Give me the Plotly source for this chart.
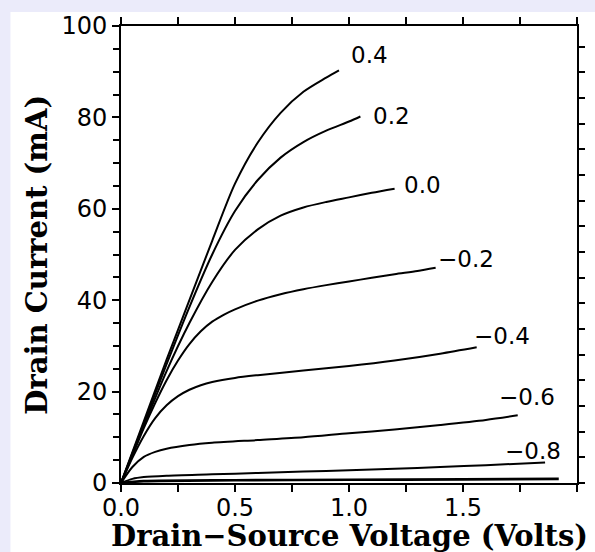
import plotly.graph_objects as go

# Gate voltage labels
gate_labels = ["0.4", "0.2", "0.0", "\u22120.2", "\u22120.4", "\u22120.6", "\u22120.8", ""]

# Drain-source voltage (V) and drain current (mA) for each curve
vds_04 = [0, 0.1, 0.2, 0.3, 0.4, 0.5, 0.6, 0.7, 0.8, 0.9, 0.956]
id_04 = [0, 13.5, 27, 40, 53, 65.5, 74.5, 81, 85.6, 88.7, 90.3]

vds_02 = [0, 0.1, 0.2, 0.3, 0.4, 0.5, 0.6, 0.7, 0.8, 0.9, 1.0, 1.05]
id_02 = [0, 13, 26, 38.5, 50, 59.5, 66.3, 71.2, 74.6, 77.1, 79.1, 80.2]

vds_00 = [0, 0.1, 0.2, 0.3, 0.4, 0.5, 0.6, 0.7, 0.8, 0.9, 1.0, 1.1, 1.2]
id_00 = [0, 12.5, 24.5, 35, 44, 51, 55.5, 58.5, 60.3, 61.5, 62.5, 63.5, 64.4]

vds_m02 = [0, 0.05, 0.1, 0.15, 0.2, 0.25, 0.3, 0.35, 0.4, 0.45, 0.5, 0.6, 0.7, 0.8, 0.9, 1.0, 1.1, 1.2, 1.3, 1.38]
id_m02 = [0, 6, 12, 17.5, 22.5, 26.8, 30.4, 33.2, 35.3, 36.8, 38.0, 39.9, 41.3, 42.4, 43.3, 44.1, 44.9, 45.7, 46.4, 47.1]

vds_m04 = [0, 0.05, 0.1, 0.15, 0.2, 0.25, 0.3, 0.35, 0.4, 0.5, 0.6, 0.8, 1.0, 1.2, 1.4, 1.56]
id_m04 = [0, 5.5, 10.3, 14.2, 17.0, 19.0, 20.4, 21.4, 22.1, 23.0, 23.6, 24.6, 25.6, 26.8, 28.3, 29.7]

vds_m06 = [0, 0.05, 0.1, 0.15, 0.2, 0.3, 0.4, 0.6, 0.8, 1.0, 1.2, 1.4, 1.6, 1.74]
id_m06 = [0, 3.5, 5.7, 6.8, 7.5, 8.3, 8.8, 9.4, 10, 10.9, 11.7, 12.7, 13.8, 14.8]

vds_m08 = [0, 0.05, 0.1, 0.2, 0.4, 0.6, 0.8, 1.0, 1.2, 1.4, 1.6, 1.86]
id_m08 = [0, 0.9, 1.3, 1.6, 1.9, 2.2, 2.5, 2.8, 3.1, 3.5, 3.9, 4.5]

vds_m10 = [0, 0.1, 0.5, 1.0, 1.5, 1.92]
id_m10 = [0, 0.4, 0.6, 0.7, 0.8, 0.9]

x_ticks = [0.0, 0.5, 1.0, 1.5, 2.0]
x_ticklabels = ["0.0", "0.5", "1.0", "1.5", "2.0"]
y_ticks = [0, 20, 40, 60, 80, 100]
y_ticklabels = ["0", "20", "40", "60", "80", "100"]

curves = [
    (vds_04, id_04), (vds_02, id_02), (vds_00, id_00), (vds_m02, id_m02),
    (vds_m04, id_m04), (vds_m06, id_m06), (vds_m08, id_m08), (vds_m10, id_m10),
]
# label offsets (pixels) from each curve's end
label_shift = [(10, 15), (11, 0), (7, 4), (0, 9), (-5, 11), (-21, 18), (-42, 11), (0, 0)]

fig = go.Figure()
for i, (xs, ys) in enumerate(curves):
    fig.add_trace(go.Scatter(
        x=xs, y=ys, mode="lines",
        line=dict(color="black", width=2.6 if i == 7 else 2, shape="spline", smoothing=0.8),
        showlegend=False, hoverinfo="skip"))
# invisible trace to activate the top and right tick axes
fig.add_trace(go.Scatter(x=[0], y=[0], xaxis="x2", yaxis="y2", mode="markers",
                         marker=dict(opacity=0), showlegend=False, hoverinfo="skip"))

annotations = []
for (xs, ys), lab, (dx, dy) in zip(curves, gate_labels, label_shift):
    if not lab:
        continue
    annotations.append(dict(
        x=xs[-1], y=ys[-1], xref="x", yref="y", text=lab, showarrow=False,
        xanchor="left", yanchor="middle", xshift=dx, yshift=dy,
        font=dict(family="DejaVu Sans", size=23, color="black")))

title_font = dict(family="DejaVu Serif", size=29, color="black", weight="bold")
annotations.append(dict(
    x=0.5, y=-0.115, xref="paper", yref="paper", text="Drain\u2212Source Voltage (Volts)",
    showarrow=False, xanchor="center", yanchor="middle", font=title_font))
annotations.append(dict(
    x=-0.186, y=0.5, xref="paper", yref="paper", text="Drain Current (mA)",
    showarrow=False, xanchor="center", yanchor="middle", textangle=-90, font=title_font))

tick_font = dict(family="DejaVu Sans", size=24, color="black")
tick_style = dict(ticks="outside", ticklen=7, tickwidth=2, tickcolor="black")

bg = "#ebebfa"
fig.update_layout(
    width=595, height=552,
    margin=dict(l=121, r=16, t=22, b=69, pad=0),
    paper_bgcolor="white", plot_bgcolor="white",
    showlegend=False,
    annotations=annotations,
    shapes=[
        dict(type="rect", xref="paper", yref="paper",
             x0=-0.27, x1=-0.2424, y0=-0.2, y1=1.06,
             fillcolor=bg, line=dict(width=0), layer="above"),
        dict(type="rect", xref="paper", yref="paper",
             x0=-0.27, x1=1.05, y0=1.0304, y1=1.06,
             fillcolor=bg, line=dict(width=0), layer="above"),
    ],
    xaxis=dict(range=[0, 2.0], tickvals=x_ticks, ticktext=x_ticklabels,
               showgrid=False, zeroline=False, showline=True, linecolor="black", linewidth=2,
               mirror=True, tickfont=tick_font, ticklabelstandoff=-5, **tick_style,
               minor=dict(dtick=0.25, showgrid=False, **tick_style)),
    xaxis2=dict(range=[0, 2.0], dtick=0.25, overlaying="x", side="top", anchor="y2",
                showticklabels=False, showgrid=False, zeroline=False,
                showline=True, linecolor="black", linewidth=2, **tick_style),
    yaxis=dict(range=[0, 100], tickvals=y_ticks, ticktext=y_ticklabels,
               showgrid=False, zeroline=False, showline=True, linecolor="black", linewidth=2,
               mirror=True, tickfont=tick_font, **tick_style,
               minor=dict(dtick=5, showgrid=False, ticks="outside", ticklen=6, tickwidth=2, tickcolor="black")),
    yaxis2=dict(range=[0, 17.8], dtick=1, overlaying="y", side="right", anchor="x2",
                showticklabels=False, showgrid=False, zeroline=False,
                showline=True, linecolor="black", linewidth=2,
                ticks="outside", ticklen=6, tickwidth=2, tickcolor="black"),
)

fig.write_html("out.html", config={"displayModeBar": False},
               post_script="document.body.style.margin='0';document.body.style.overflow='hidden';")
